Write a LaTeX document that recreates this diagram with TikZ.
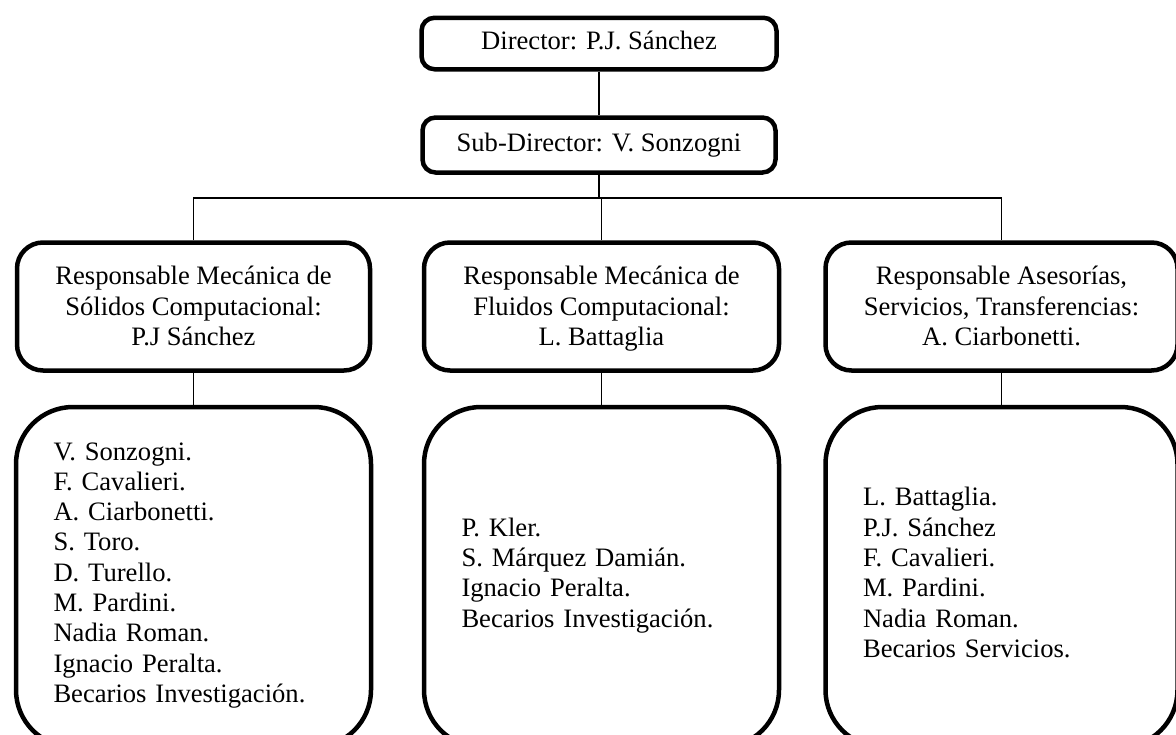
\documentclass[tikz,border=0pt]{standalone}
\usepackage{fontspec}
\setmainfont{Liberation Serif}
\newcommand{\lastln}[1]{\smash{#1}\rule[-1pt]{0pt}{1pt}}
\begin{document}
\begin{tikzpicture}[x=1pt,y=-1pt,
  base/.style={draw, line width=4.5pt, inner sep=0pt, font=\fontsize{26.6}{30.3}\selectfont},
  topbox/.style={base, rounded corners=13pt},
  midbox/.style={base, rounded corners=26pt, align=center, minimum height=128pt},
  lowbox/.style={base, rounded corners=57pt, align=left, minimum height=340pt},
  link/.style={line width=1.6pt}]
\useasboundingbox (0,0) rectangle (1176,734);
\clip (0,0) rectangle (1176,734);

\node[topbox, minimum width=355pt, minimum height=51.5pt] (dir) at (599,43.5) {\strut Director: P.J. Sánchez};
\node[topbox, minimum width=353pt, minimum height=55pt] (sub) at (599,145) {\strut Sub-Director: V. Sonzogni};

\node[midbox, minimum width=353pt] (m1) at (193.5,306.5) {Responsable Mecánica de\\Sólidos Computacional:\\\lastln{P.J Sánchez}};
\node[midbox, minimum width=355pt] (m2) at (601.5,306.5) {Responsable Mecánica de\\Fluidos Computacional:\\\lastln{L. Battaglia}};
\node[midbox, minimum width=352pt] (m3) at (1001.5,306.5) {Responsable Asesorías,\\Servicios, Transferencias:\\\lastln{A. Ciarbonetti.}};

\node[lowbox, minimum width=355pt, text width=280pt] (b1) at (193.5,577) {V. Sonzogni.\\F. Cavalieri.\\A. Ciarbonetti.\\S. Toro.\\D. Turello.\\M. Pardini.\\Nadia Roman.\\Ignacio Peralta.\\Becarios Investigación.\strut};
\node[lowbox, minimum width=355pt, text width=280pt] (b2) at (601.5,577) {P. Kler.\\S. Márquez Damián.\\Ignacio Peralta.\\Becarios Investigación.\strut};
\node[lowbox, minimum width=352pt, text width=277pt] (b3) at (1001.5,577) {L. Battaglia.\\P.J. Sánchez\\F. Cavalieri.\\M. Pardini.\\Nadia Roman.\\Becarios Servicios.\strut};

\coordinate (bar) at (0,198);
\draw[link] (dir.south) -- (sub.north);
\draw[link] (sub.south) -- (sub.south |- bar);
\draw[link] (m1.north) -- (m1.north |- bar) -- (m3.north |- bar) -- (m3.north);
\draw[link] (m2.north) -- (m2.north |- bar);
\draw[link] (m1.south) -- (b1.north);
\draw[link] (m2.south) -- (b2.north);
\draw[link] (m3.south) -- (b3.north);
\end{tikzpicture}
\end{document}
